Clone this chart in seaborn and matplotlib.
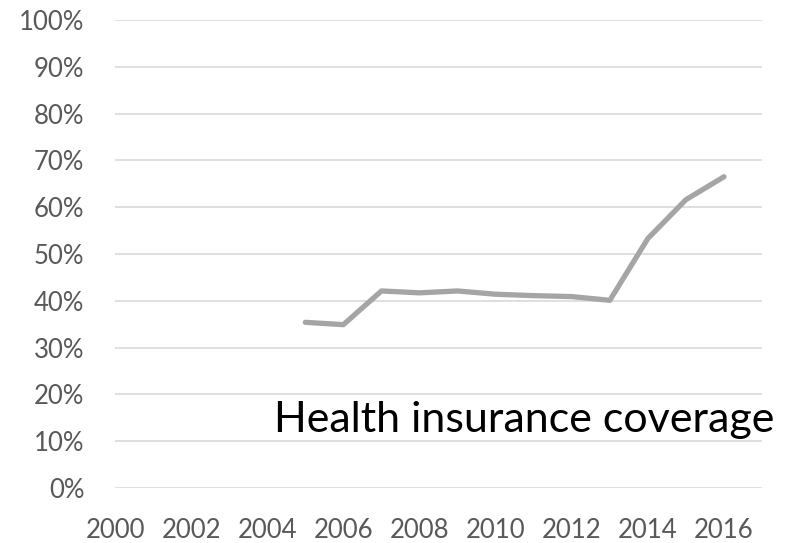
import numpy as np
import pandas as pd
import seaborn as sns
import matplotlib.pyplot as plt
from matplotlib.ticker import PercentFormatter

# coverage share
years = [2005, 2006, 2007, 2008, 2009, 2010, 2011, 2012, 2013, 2014, 2015, 2016]
coverage = [35.4, 34.9, 42.1, 41.7, 42.1, 41.4, 41.1, 40.9, 40.1, 53.3, 61.6, 66.5]
label = "Health insurance coverage"

df = pd.DataFrame({"year": years, "coverage": coverage})

sns.set_style("white")
plt.rcParams['font.family'] = ['Lato', 'DejaVu Sans']

fig = plt.figure(figsize=(7.89, 5.43), dpi=100)
ax = fig.add_axes([0.1458, 0.1013, 0.82, 0.8619])

sns.lineplot(data=df, x="year", y="coverage", ax=ax, color="#A5A5A5",
             linewidth=3.8, solid_capstyle="round", solid_joinstyle="round")

ax.set_xlim(2000, 2017)
ax.set_ylim(0, 100)
ax.set_xticks(np.arange(2000, 2017, 2))
ax.set_yticks(np.arange(0, 101, 10))
ax.yaxis.set_major_formatter(PercentFormatter(decimals=0))
ax.grid(axis="y", color="#D9D9D9", linewidth=1.2)
ax.set_axisbelow(True)
for s in ax.spines.values():
    s.set_visible(False)
ax.tick_params(axis="both", length=0, labelsize=18.5, labelcolor="#595959")
ax.tick_params(axis="y", pad=22)
ax.tick_params(axis="x", pad=21.5)
ax.set_xlabel("")
ax.set_ylabel("")

ax.text(2010.75, 14.5, label, fontsize=31, color="black", va="center", ha="center",
        clip_on=False)

fig.savefig("out.png", dpi=100)
